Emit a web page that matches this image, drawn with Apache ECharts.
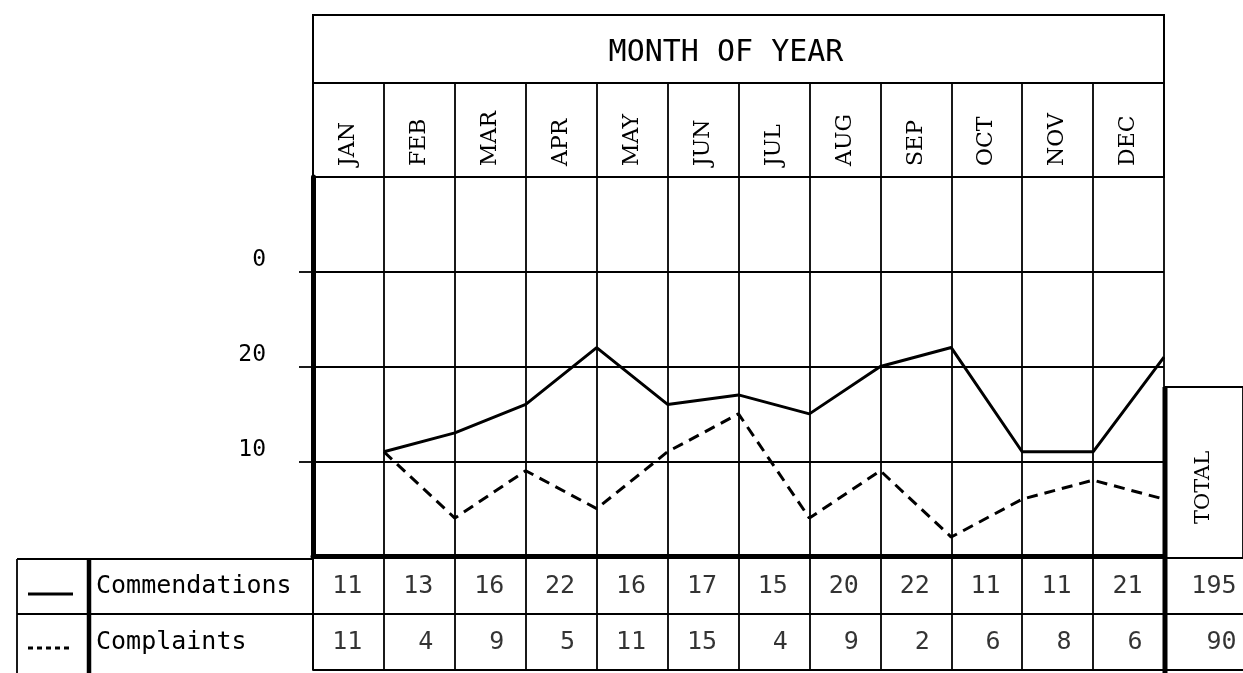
<!DOCTYPE html>
<html>
<head>
<meta charset="utf-8">
<script src="https://cdn.jsdelivr.net/npm/echarts@6/dist/echarts.min.js"></script>
<style>
  html, body { margin: 0; padding: 0; background: #fff; }
  #chart { width: 1243px; height: 673px; }
</style>
</head>
<body>
<div id="chart"></div>
<script>
// data
var months = ['JAN', 'FEB', 'MAR', 'APR', 'MAY', 'JUN', 'JUL', 'AUG', 'SEP', 'OCT', 'NOV', 'DEC'];
var commendations = [11, 13, 16, 22, 16, 17, 15, 20, 22, 11, 11, 21];
var complaints = [11, 4, 9, 5, 11, 15, 4, 9, 2, 6, 8, 6];
var rowNames = ['Commendations', 'Complaints'];
var totals = [195, 90];
// tick labels as printed on the original (the top one really says 0)
var yTickValues = [10, 20, 30];
var yTickLabels = ['10', '20', '0'];

var MONO = 'DejaVu Sans Mono';
var SERIF = 'DejaVu Serif';
var INK = '#000';
var thin = { color: INK, width: 1.8 };

var chart = echarts.init(document.getElementById('chart'));

function linePoints(values) {
  return values.map(function (v, i) { return [i + 1, v]; });
}
function tableCells(values, row) {
  return values.map(function (v, i) { return [i + 1, row, v]; });
}

var tableLabel = {
  show: true,
  position: 'left',
  distance: 21,
  color: INK,
  fontFamily: MONO,
  fontSize: 25,
  formatter: function (p) { return p.value[2]; }
};

var option = {
  animation: false,
  backgroundColor: '#fff',
  textStyle: { fontFamily: MONO, color: INK },
  grid: [
    { left: 313, top: 177, width: 851, height: 379 },                 // plot
    { left: 313, top: 83, width: 851, height: 94, show: true,          // month header
      borderColor: INK, borderWidth: 1.8, backgroundColor: 'transparent' },
    { left: 313, top: 558, width: 851, height: 112 },                 // table
    { left: 1165, top: 558, width: 78, height: 112 },                 // totals
    { left: 1165, top: 387, width: 78, height: 171, show: true,        // TOTAL header
      borderColor: INK, borderWidth: 1.8, backgroundColor: 'transparent' }
  ],
  xAxis: [
    { gridIndex: 0, type: 'value', min: 0, max: 12, interval: 1,
      axisLabel: { show: false }, axisTick: { show: false },
      axisLine: { show: true, onZero: false, lineStyle: { color: INK, width: 5 } },
      splitLine: { show: true, lineStyle: thin } },
    { gridIndex: 1, type: 'category', data: months, boundaryGap: true,
      axisLine: { show: true, lineStyle: thin }, axisTick: { show: false },
      axisLabel: { inside: true, rotate: 90, margin: 11, interval: 0,
        fontFamily: SERIF, fontSize: 22, color: INK },
      splitLine: { show: true, interval: 0, lineStyle: thin } },
    { gridIndex: 2, type: 'value', min: 0, max: 12, interval: 1,
      axisLabel: { show: false }, axisTick: { show: false }, axisLine: { show: false },
      splitLine: { show: true, lineStyle: thin } },
    { gridIndex: 3, type: 'value', min: 0, max: 1, show: false },
    { gridIndex: 4, type: 'category', data: ['TOTAL'], boundaryGap: true,
      axisLine: { show: false }, axisTick: { show: false },
      axisLabel: { inside: true, rotate: 90, margin: 34,
        fontFamily: SERIF, fontSize: 21, color: INK },
      splitLine: { show: false } }
  ],
  yAxis: [
    { gridIndex: 0, type: 'value', min: 0, max: 40, interval: 10,
      axisLine: { show: true, lineStyle: { color: INK, width: 5 } },
      axisTick: { show: true, length: 14, customValues: yTickValues, lineStyle: thin },
      axisLabel: { customValues: yTickValues, margin: 47, verticalAlign: 'bottom',
        fontFamily: MONO, fontSize: 23, color: INK,
        formatter: function (v) {
          var k = yTickValues.indexOf(v);
          return k < 0 ? '' : yTickLabels[k];
        } },
      splitLine: { show: true, lineStyle: thin } },
    { gridIndex: 1, type: 'value', show: false },
    { gridIndex: 2, type: 'category', data: rowNames, inverse: true,
      axisLine: { show: true, lineStyle: thin }, axisTick: { show: false },
      axisLabel: { align: 'left', margin: 217, fontFamily: MONO, fontSize: 25, color: INK },
      splitLine: { show: true, interval: 0, lineStyle: thin } },
    { gridIndex: 3, type: 'category', data: rowNames, inverse: true,
      axisLine: { show: false }, axisTick: { show: false }, axisLabel: { show: false },
      splitLine: { show: true, interval: 0, lineStyle: thin } },
    { gridIndex: 4, type: 'value', show: false }
  ],
  series: [
    { name: 'Commendations', type: 'line', xAxisIndex: 0, yAxisIndex: 0,
      data: linePoints(commendations), showSymbol: false, symbol: 'none', silent: true,
      lineStyle: { color: INK, width: 3 } },
    { name: 'Complaints', type: 'line', xAxisIndex: 0, yAxisIndex: 0,
      data: linePoints(complaints), showSymbol: false, symbol: 'none', silent: true,
      lineStyle: { color: INK, width: 3, type: [11, 7] } },
    { type: 'scatter', xAxisIndex: 2, yAxisIndex: 2, symbolSize: 1, silent: true,
      itemStyle: { color: 'rgba(0,0,0,0)' },
      data: tableCells(commendations, rowNames[0]).concat(tableCells(complaints, rowNames[1])),
      label: tableLabel },
    { type: 'scatter', xAxisIndex: 3, yAxisIndex: 3, symbolSize: 1, silent: true,
      itemStyle: { color: 'rgba(0,0,0,0)' },
      data: totals.map(function (t, i) { return [1, rowNames[i], t]; }),
      label: echarts.util.merge({ distance: 6 }, tableLabel, false) }
  ],
  graphic: [
    // title box
    { type: 'rect', shape: { x: 313, y: 15, width: 851, height: 68 },
      style: { fill: 'none', stroke: INK, lineWidth: 2 } },
    { type: 'text', x: 726, y: 53,
      style: { text: 'MONTH OF YEAR', font: '30px "DejaVu Sans Mono"', fill: INK,
        textAlign: 'center', textVerticalAlign: 'middle' } },
    // heavy rule before the total column
    { type: 'line', shape: { x1: 1165, y1: 387, x2: 1165, y2: 673 },
      style: { stroke: INK, lineWidth: 5 } },
    // key cells at the left of the table
    { type: 'line', shape: { x1: 17, y1: 559, x2: 313, y2: 559 }, style: { stroke: INK, lineWidth: 2 } },
    { type: 'line', shape: { x1: 17, y1: 614, x2: 313, y2: 614 }, style: { stroke: INK, lineWidth: 1.8 } },
    { type: 'line', shape: { x1: 17, y1: 559, x2: 17, y2: 673 }, style: { stroke: INK, lineWidth: 1.8 } },
    { type: 'line', shape: { x1: 89, y1: 559, x2: 89, y2: 673 }, style: { stroke: INK, lineWidth: 4.5 } },
    { type: 'line', shape: { x1: 28, y1: 594, x2: 73, y2: 594 }, style: { stroke: INK, lineWidth: 3 } },
    { type: 'line', shape: { x1: 28, y1: 648, x2: 70, y2: 648 },
      style: { stroke: INK, lineWidth: 3, lineDash: [5, 4] } }
  ]
};

chart.setOption(option);
</script>
</body>
</html>
